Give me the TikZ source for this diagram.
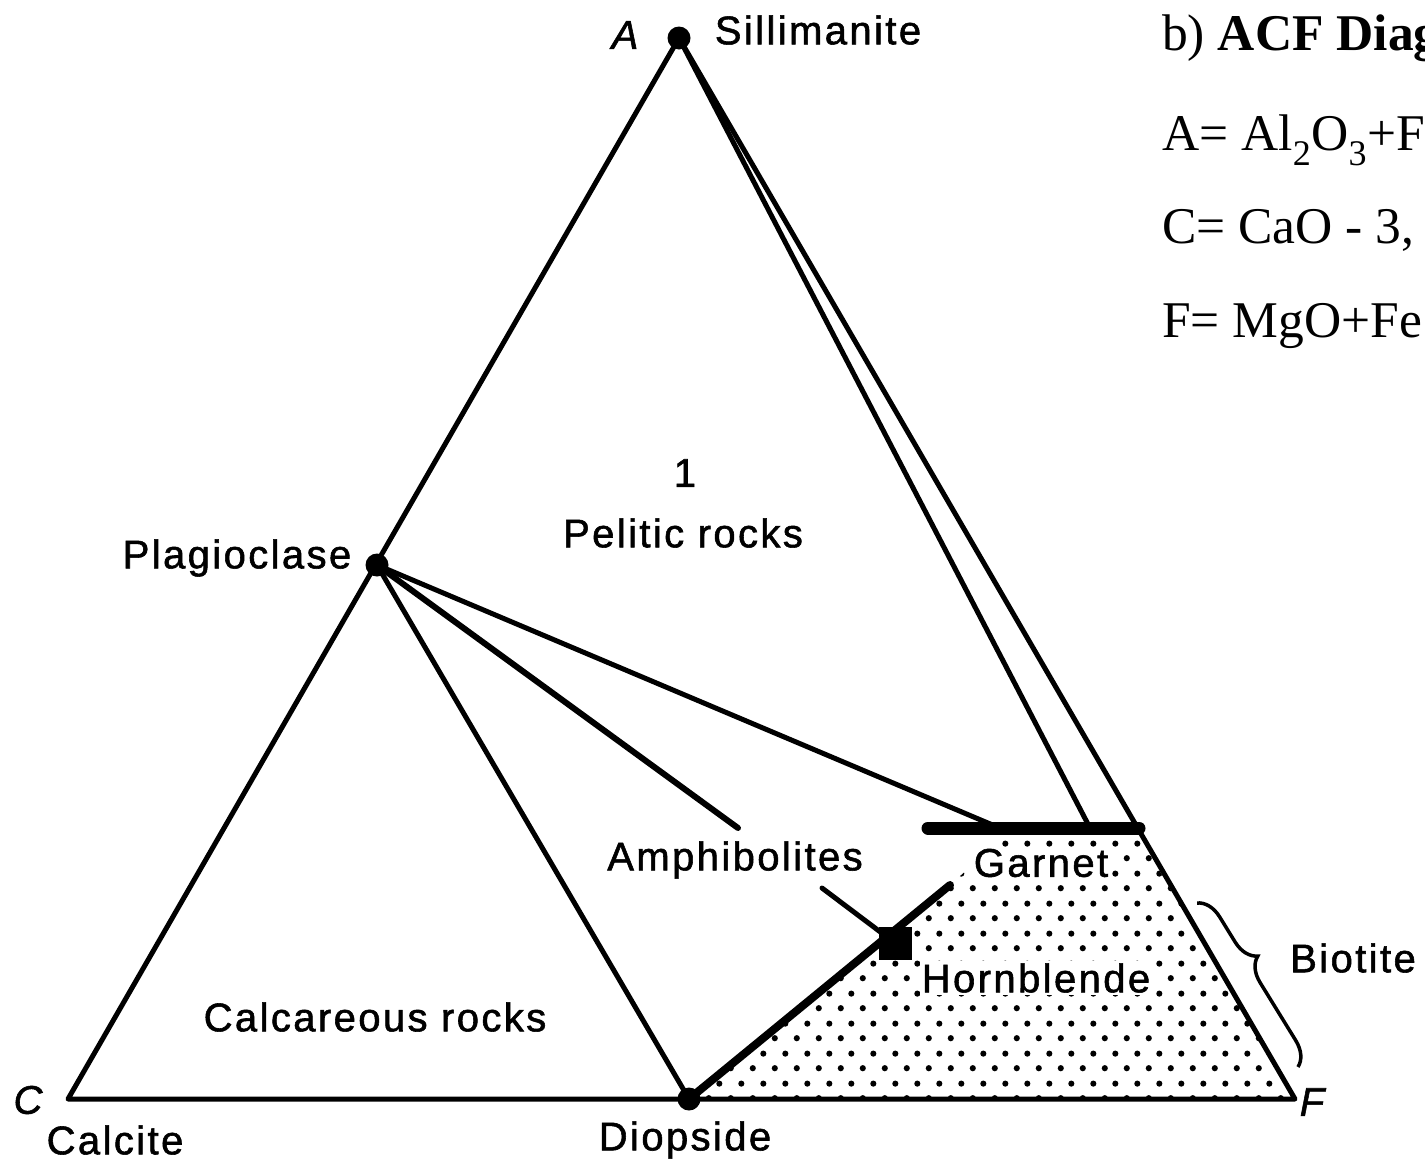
\documentclass[tikz,border=0pt]{standalone}
\usepackage{fontspec}
\setmainfont{Liberation Serif}
\newfontfamily\labfont[LetterSpace=6,FakeBold=1.4]{Liberation Sans}
\usetikzlibrary{patterns.meta,decorations.pathreplacing}
\tikzdeclarepattern{
  name=stipple,
  type=uncolored,
  bounding box={(0pt,0pt) and (22pt,30pt)},
  tile size={(22pt,30pt)},
  code={
    \fill (5pt,7pt) circle (3.2pt);
    \fill (16pt,22pt) circle (3.2pt);
  }
}
\begin{document}
\begin{tikzpicture}[x=1pt,y=-1pt,
  lab/.style={font=\labfont\fontsize{40}{40}\selectfont, inner sep=0pt},
  itl/.style={font=\labfont\fontsize{40}{40}\selectfont\itshape, inner sep=0pt},
  eq/.style={font=\fontsize{51.5}{52}\selectfont, anchor=base west, inner sep=0pt},
  edge/.style={line width=5pt, line join=round, line cap=round},
  thickedge/.style={line width=8pt, line cap=round},
  bar/.style={line width=13pt, line cap=round},
  vtx/.style={circle, fill=black, inner sep=0pt, minimum size=23pt}]
\useasboundingbox (0,0) rectangle (1425,1165);
\fill[white] (0,0) rectangle (1425,1165);

\coordinate (A) at (679,38);
\coordinate (C) at (68,1099);
\coordinate (F) at (1295,1099);
\coordinate (Gl) at (928,828);
\coordinate (Gr) at (1139,828);
\coordinate (Gi) at (1090,828);
\coordinate (Gp) at (995,826);
\coordinate (Am) at (738,828);
\coordinate (Hb) at (950,885);
\coordinate (Ld) at (822,888);
\coordinate (Sh1) at (1005,836);
\coordinate (Sh2) at (1139,836);

\node[vtx] (Av) at (A) {};
\node[vtx] (Pl) at (377,565) {};
\node[vtx] (Di) at (689,1099) {};

% stippled hornblende field
\fill[pattern=stipple] (Di.center) -- (Hb) -- (Sh1) -- (Sh2) -- (F) -- cycle;

% triangle
\draw[edge] (C) -- (Av.center) -- (F) -- cycle;
\draw[edge] (Av.center) -- (Gi);

% tie lines from plagioclase
\draw[edge] (Pl.center) -- (Di.center);
\draw[line width=6pt, line cap=round] (Pl.center) -- (Am);
\draw[edge] (Pl.center) -- (Gp);

% garnet bar
\draw[bar] (Gl) -- (Gr);

% hornblende
\draw[thickedge] (Di.center) -- (Hb);
\node[fill=black, minimum size=33pt, inner sep=0pt] (Sq) at (895,943) {};
\draw[edge] (Ld) -- (Sq.center);

% biotite brace
\draw[line width=3.5pt, decorate, decoration={brace, amplitude=24pt, aspect=0.4}] (1197,903) -- (1298,1067);

% labels
\node[itl] (lA) at (625,35) {A};
\node[lab] (lSil) at (818,30) {Sillimanite};
\node[lab] (lPl) at (237,558) {Plagioclase};
\node[lab] (l1) at (685,473) {1};
\node[lab] (lPel) at (683,533) {Pelitic rocks};
\node[lab] (lAm) at (735,860) {Amphibolites};
\node[lab, fill=white, inner sep=2pt] (lGa) at (1041,863) {Garnet};
\node[lab, fill=white, inner sep=2pt] (lHb) at (1036,978) {Hornblende};
\node[lab] (lBi) at (1353,958) {Biotite};
\node[lab] (lCa) at (375,1017) {Calcareous rocks};
\node[itl] (lC) at (28,1100) {C};
\node[itl] (lF) at (1312,1102) {F};
\node[lab] (lCc) at (115,1140) {Calcite};
\node[lab] (lDi) at (685,1140) {Diopside};

% formula text
\node[eq] (t1) at (1162,50) {b) \textbf{ACF Diag}};
\node[eq] (t2) at (1162,150) {A= Al\textsubscript{2}O\textsubscript{3}+F};
\node[eq] (t3) at (1162,243) {C= CaO - 3,};
\node[eq] (t4) at (1162,337) {F= MgO+Fe};
\end{tikzpicture}
\end{document}
